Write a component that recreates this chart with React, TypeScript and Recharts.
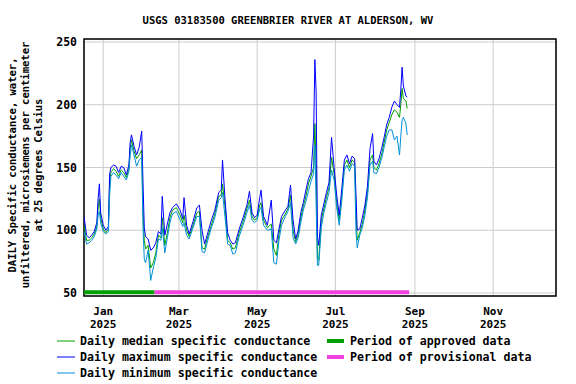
import React from "react";
import {
  LineChart,
  Line,
  XAxis,
  YAxis,
  CartesianGrid,
  ReferenceLine,
  ReferenceArea,
} from "recharts";

// days counted from Jan 1 2025
const days = [
  -15, -13, -11, -9, -7, -5, -4, -3, -2, 0, 2, 4, 5, 6, 8, 10, 12, 14, 16, 18, 20, 21, 22, 24, 26, 28, 30,
  31, 32, 33, 35, 37, 39, 41, 43, 45, 46, 48, 50, 52, 54, 57, 60, 62, 63, 65, 67, 70, 73, 75, 77, 79, 81,
  84, 87, 90, 92, 93, 95, 97, 99, 101, 103, 106, 109, 112, 114, 116, 118, 120, 122, 123, 125, 128, 131,
  133, 135, 137, 139, 142, 144, 146, 148, 150, 152, 154, 156, 158, 160, 162, 164, 165, 166, 167, 168,
  170, 172, 174, 176, 178, 180, 182, 184, 186, 188, 190, 192, 194, 196, 197, 198, 200, 202, 204, 206,
  208, 210, 211, 213, 215, 217, 219, 221, 223, 225, 227, 229, 231, 232, 233, 234, 236, 237,
];

const medianVals = [
  104, 92, 92, 94, 97, 103, 118, 125, 110, 101, 98, 101, 140, 146, 149, 147, 143, 148, 146, 142, 149, 165, 172, 163, 157, 160, 164,
  115, 92, 85, 88, 70, 74, 82, 96, 94, 110, 88, 98, 110, 116, 118, 112, 106, 112, 100, 95, 104, 114, 115, 86, 85, 93,
  103, 113, 127, 128, 137, 118, 92, 90, 85, 86, 98, 107, 117, 124, 111, 108, 110, 120, 122, 108, 102, 105,
  85, 80, 97, 108, 113, 117, 128, 100, 91, 97, 110, 119, 127, 137, 143, 150, 185, 150, 78, 76,
  108, 117, 126, 134, 158, 145, 122, 108, 128, 152, 156, 150, 156, 154, 120, 92, 98, 105, 116, 130,
  156, 160, 150, 148, 153, 160, 170, 180, 186, 192, 196, 194, 190, 200, 213, 205, 203, 197,
];

const maxVals = [
  111, 96, 94, 96, 99, 106, 125, 137, 114, 104, 100, 103, 145, 150, 152, 151, 146, 151, 150, 144, 152, 170, 176, 167, 160, 166, 179,
  138, 102, 95, 93, 84, 86, 90, 99, 97, 127, 96, 105, 114, 118, 121, 116, 109, 126, 104, 97, 107, 118, 120, 100, 89, 96,
  107, 116, 130, 132, 156, 124, 98, 92, 89, 90, 101, 110, 120, 131, 114, 110, 112, 126, 132, 111, 104, 124,
  92, 90, 101, 111, 116, 119, 136, 108, 93, 100, 114, 122, 132, 141, 146, 175, 236, 210, 95, 88,
  112, 121, 130, 138, 174, 150, 128, 112, 133, 156, 160, 153, 159, 157, 130, 100, 101, 110, 120, 135,
  165, 177, 155, 152, 157, 165, 174, 184, 190, 198, 203, 200, 198, 212, 230, 215, 207, 206,
];

const minVals = [
  99, 89, 90, 92, 95, 101, 112, 115, 106, 99, 97, 99, 128, 143, 146, 144, 141, 146, 143, 140, 147, 160, 168, 160, 151, 156, 158,
  102, 77, 74, 84, 60, 70, 78, 93, 92, 102, 82, 94, 106, 113, 115, 108, 103, 106, 96, 93, 102, 111, 111, 83, 82, 90,
  101, 110, 124, 126, 130, 110, 89, 88, 81, 82, 95, 104, 114, 120, 108, 106, 108, 117, 118, 104, 100, 101,
  74, 73, 92, 104, 111, 115, 122, 94, 89, 94, 106, 116, 123, 131, 139, 145, 168, 120, 72, 72,
  102, 114, 122, 130, 148, 140, 118, 104, 124, 148, 152, 147, 153, 151, 100, 86, 96, 102, 112, 126,
  152, 155, 146, 145, 150, 157, 166, 175, 180, 180, 172, 175, 160, 175, 188, 190, 185, 176,
];

const tickDays = [0, 59, 120, 181, 243, 304];
const monthLabels = ["Jan", "Mar", "May", "Jul", "Sep", "Nov"];
const yearLabels = ["2025", "2025", "2025", "2025", "2025", "2025"];
const yTicks = [50, 100, 150, 200, 250];

// approved / provisional periods (day index)
const approvedPeriod = [-15, 40];
const provisionalPeriod = [40, 238.5];

const X_DOMAIN = [-15, 353];
const Y_DOMAIN = [47.6, 252.4];
const FONT = "'DejaVu Sans Mono', monospace";

const rows = days.map((d, i) => ({
  day: d,
  median: medianVals[i],
  max: maxVals[i],
  min: minVals[i],
}));

function MonthTick({ x, y, payload }: any) {
  const i = tickDays.indexOf(payload.value);
  return (
    <g>
      <text x={x} y={y + 19} textAnchor="middle" fontFamily={FONT} fontWeight="bold" fontSize={11} fill="#000">
        {monthLabels[i]}
      </text>
      <text x={x} y={y + 32} textAnchor="middle" fontFamily={FONT} fontWeight="bold" fontSize={11} fill="#000">
        {yearLabels[i]}
      </text>
    </g>
  );
}

const legendLines = [
  { label: "Daily median specific conductance", color: "#00a000" },
  { label: "Daily maximum specific conductance", color: "#0000ff" },
  { label: "Daily minimum specific conductance", color: "#0090d8" },
];
const legendBars = [
  { label: "Period of approved data", color: "#00a000" },
  { label: "Period of provisional data", color: "#f040e0" },
];

export default function App() {
  return (
    <div style={{ position: "absolute", left: 0, top: 0, width: 576, height: 384, background: "#fff" }}>
      <LineChart width={576} height={384} data={rows} margin={{ top: 39, right: 20, left: 0, bottom: 0 }}>
        <CartesianGrid stroke="#cccccc" strokeWidth={1} />
        <XAxis
          type="number"
          dataKey="day"
          domain={X_DOMAIN}
          allowDataOverflow
          ticks={tickDays}
          tick={<MonthTick />}
          tickLine={false}
          tickSize={0}
          tickMargin={0}
          axisLine={false}
          height={88}
        />
        <YAxis
          type="number"
          domain={Y_DOMAIN}
          allowDataOverflow
          ticks={yTicks}
          width={84}
          tickLine={false}
          tickSize={4}
          tickMargin={3}
          axisLine={false}
          tick={{ fill: "#000", fontSize: 11.5, fontFamily: FONT, fontWeight: "bold" }}
        />
        <ReferenceLine
          segment={[{ x: approvedPeriod[0], y: 50.6 }, { x: approvedPeriod[1], y: 50.6 }]}
          stroke="#00a000"
          strokeWidth={4}
        />
        <ReferenceLine
          segment={[{ x: provisionalPeriod[0], y: 50.6 }, { x: provisionalPeriod[1], y: 50.6 }]}
          stroke="#f040e0"
          strokeWidth={4}
        />
        <Line dataKey="median" stroke="#00a000" strokeWidth={1} dot={false} isAnimationActive={false} />
        <Line dataKey="max" stroke="#0000ff" strokeWidth={1} dot={false} isAnimationActive={false} />
        <Line dataKey="min" stroke="#0090d8" strokeWidth={1} dot={false} isAnimationActive={false} />
        <ReferenceArea
          x1={X_DOMAIN[0]}
          x2={X_DOMAIN[1]}
          y1={Y_DOMAIN[0]}
          y2={Y_DOMAIN[1]}
          fill="none"
          fillOpacity={0}
          stroke="#000"
          strokeWidth={1.5}
          ifOverflow="visible"
        />
      </LineChart>
      <svg
        width={576}
        height={384}
        style={{ position: "absolute", left: 0, top: 0, pointerEvents: "none" }}
        fontFamily={FONT}
        fontWeight="bold"
      >
        <text x={288} y={24} textAnchor="middle" fontSize={10.5} fill="#000">
          USGS 03183500 GREENBRIER RIVER AT ALDERSON, WV
        </text>
        <g transform="translate(0,165) rotate(-90)" fontSize={10.5} fill="#000">
          <text x={0} y={16} textAnchor="middle">DAILY Specific conductance, water,</text>
          <text x={0} y={29} textAnchor="middle">unfiltered, microsiemens per centimeter</text>
          <text x={0} y={42} textAnchor="middle">at 25 degrees Celsius</text>
        </g>
        {legendLines.map((l, i) => (
          <g key={l.label}>
            <line x1={57} x2={75} y1={341 + i * 16} y2={341 + i * 16} stroke={l.color} strokeWidth={1} />
            <text x={80} y={345 + i * 16} fontSize={11.6} fill="#000">
              {l.label}
            </text>
          </g>
        ))}
        {legendBars.map((l, i) => (
          <g key={l.label}>
            <line x1={327} x2={344} y1={341 + i * 16} y2={341 + i * 16} stroke={l.color} strokeWidth={4} />
            <text x={350} y={345 + i * 16} fontSize={11.6} fill="#000">
              {l.label}
            </text>
          </g>
        ))}
      </svg>
    </div>
  );
}
